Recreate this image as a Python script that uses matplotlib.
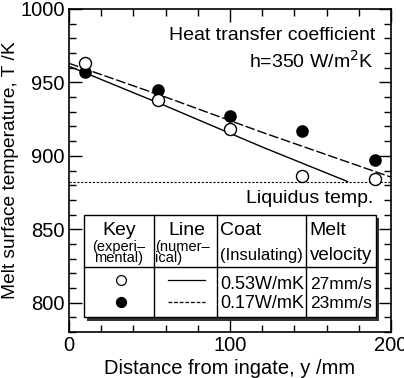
import matplotlib
matplotlib.use("Agg")
import matplotlib.pyplot as plt
from matplotlib.patches import Rectangle
from matplotlib.ticker import MultipleLocator

plt.rcParams['font.family'] = ['Liberation Sans', 'DejaVu Sans']

# experimental data
dist_exp = [10, 55, 100, 145, 190]
temp_open = [963, 938, 918.5, 886, 884]      # 0.53 W/mK coat
temp_filled = [957, 945, 927, 917, 897]      # 0.17 W/mK coat

# numerical lines
dist_solid = [0, 60, 120, 173]
temp_solid = [961, 934, 906, 882.5]
dist_dash = [0, 60, 120, 200]
temp_dash = [963, 940, 916, 885.5]

liquidus = 882

W, H = 404, 378
fig = plt.figure(figsize=(W / 100, H / 100), dpi=100)
ax = fig.add_axes([69 / W, (H - 332) / H, 322 / W, 323 / H])

ax.plot(dist_solid, temp_solid, color='black', lw=1.0)
ax.plot(dist_dash, temp_dash, color='black', lw=1.0, ls=(0, (7, 2)))
ax.axhline(liquidus, color='black', lw=0.8, ls=(0, (2, 1.5)))
ax.scatter(dist_exp, temp_filled, s=65, color='black', zorder=3)
ax.scatter(dist_exp, temp_open, s=75, facecolor='white', edgecolor='black', lw=1.0, zorder=4, clip_on=False)

ax.set_xlim(0, 200)
ax.set_ylim(780, 1000)
ax.xaxis.set_major_locator(MultipleLocator(100))
ax.xaxis.set_minor_locator(MultipleLocator(20))
ax.yaxis.set_major_locator(MultipleLocator(50))
ax.yaxis.set_minor_locator(MultipleLocator(10))
ax.tick_params(which='both', direction='in', top=True, right=True, labelsize=14.5, pad=3)
ax.tick_params(which='major', length=9, width=1)
ax.tick_params(which='minor', length=5, width=1)
for s in ax.spines.values():
    s.set_linewidth(1.2)

ax.set_xlabel('Distance from ingate, y /mm', fontsize=14.5, labelpad=3)
ax.set_ylabel('Melt surface temperature, T /K', fontsize=13.8, labelpad=1)

ax.text(190, 979, 'Heat transfer coefficient', ha='right', va='baseline', fontsize=14)
ax.text(189, 960, 'h=350 W/m$^2$K', ha='right', va='baseline', fontsize=14)
ax.text(189, 868, 'Liquidus temp.', ha='right', va='baseline', fontsize=14)

# key table
x0, x1, y0, y1 = 9.3, 190.7, 790, 860
cols = [52.8, 91.9, 147.2]
ymid = 824
ax.add_patch(Rectangle((x0 + 1.8, y0 - 2.2), x1 - x0, y1 - y0, facecolor='#333333', edgecolor='none', zorder=5))
ax.add_patch(Rectangle((x0, y0), x1 - x0, y1 - y0, facecolor='white', edgecolor='black', lw=1.0, zorder=6))
for c in cols:
    ax.plot([c, c], [y0, y1], color='black', lw=1.0, zorder=7)
ax.plot([x0, x1], [ymid, ymid], color='black', lw=1.0, zorder=7)

big, small = 14, 10.5
ax.text(31, 846, 'Key', ha='center', va='baseline', fontsize=big, zorder=8)
ax.text(31, 835, '(experi–', ha='center', va='baseline', fontsize=small, zorder=8)
ax.text(31, 828, 'mental)', ha='center', va='baseline', fontsize=small, zorder=8)
ax.text(73, 846, 'Line', ha='center', va='baseline', fontsize=big, zorder=8)
ax.text(53.5, 835, '(numer–', ha='left', va='baseline', fontsize=small, zorder=8)
ax.text(53.5, 828, 'ical)', ha='left', va='baseline', fontsize=small, zorder=8)
ax.text(94, 846, 'Coat', ha='left', va='baseline', fontsize=big, zorder=8)
ax.text(94, 829, '(Insulating)', ha='left', va='baseline', fontsize=12, zorder=8)
ax.text(149.5, 846, 'Melt', ha='left', va='baseline', fontsize=big, zorder=8)
ax.text(149.5, 829, 'velocity', ha='left', va='baseline', fontsize=13.5, zorder=8)

ax.scatter([32], [815.6], s=50, facecolor='white', edgecolor='black', lw=0.9, zorder=9)
ax.scatter([32], [800.7], s=50, color='black', zorder=9)
ax.plot([61.5, 84.5], [815.6, 815.6], color='black', lw=0.9, zorder=9)
ax.plot([61.5, 84.5], [800.5, 800.5], color='black', lw=0.9, ls=(0, (3, 1.5)), zorder=9)
ax.text(94, 809, '0.53W/mK', ha='left', va='baseline', fontsize=13, zorder=8)
ax.text(94, 796.6, '0.17W/mK', ha='left', va='baseline', fontsize=13, zorder=8)
ax.text(149.5, 809, '27mm/s', ha='left', va='baseline', fontsize=12.5, zorder=8)
ax.text(149.5, 796.6, '23mm/s', ha='left', va='baseline', fontsize=12.5, zorder=8)

fig.savefig('out.png', dpi=100)
